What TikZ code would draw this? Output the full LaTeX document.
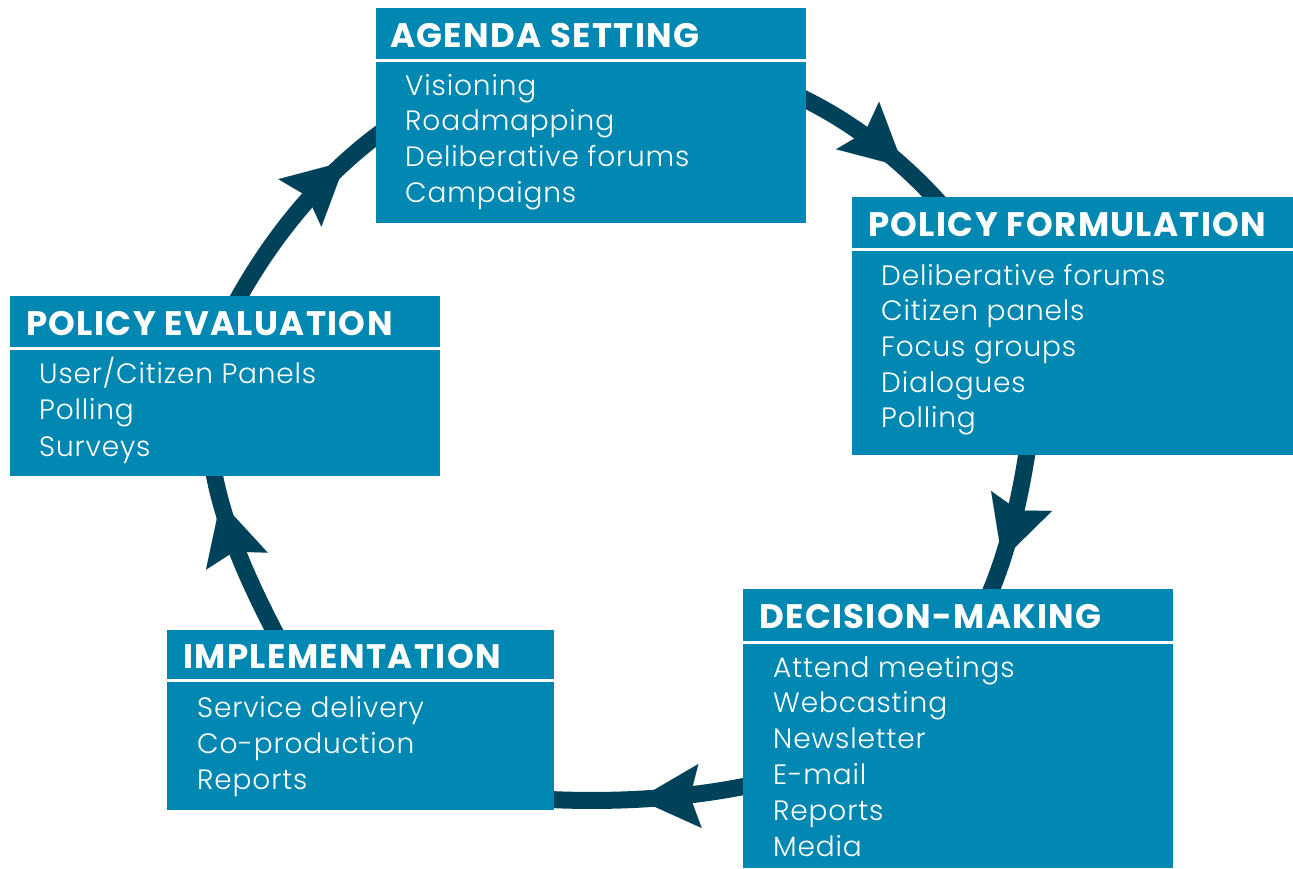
\documentclass[tikz,border=0pt]{standalone}
\usepackage{fontspec}
\setmainfont{Poppins}
\newfontfamily\itemfont{Poppins Light}[LetterSpace=3]
\newfontfamily\titlefont{Poppins}[LetterSpace=4]
\usetikzlibrary{arrows.meta,decorations.markings}
\definecolor{boxblue}{RGB}{0,136,178}
\definecolor{arrowdark}{RGB}{0,66,90}
\pgfdeclarelayer{background}
\pgfsetlayers{background,main}
\begin{document}
\begin{tikzpicture}[x=1pt,y=-1pt,
  box/.style={fill=boxblue, draw=none, rectangle, inner sep=0pt, anchor=north west},
  boxtitle/.style={anchor=base west, inner sep=0pt, text=white, font=\titlefont\bfseries\fontsize{34}{34}\selectfont},
  item/.style={anchor=base west, inner sep=0pt, text=white, font=\itemfont\fontsize{28}{28}\selectfont},
  sepline/.style={draw=white, line width=3pt},
  flow/.style={draw=arrowdark, color=arrowdark, line width=17pt,
    decoration={markings, mark=at position #1 with {\arrow{Stealth[length=62pt,width=64pt,inset=10pt,line width=0.01pt]}}},
    postaction={decorate}}
]
\useasboundingbox (0,0) rectangle (1293,868);

% boxes
\node[box, minimum width=430pt, minimum height=215pt] (agenda) at (376,8) {};
\node[box, minimum width=441pt, minimum height=258pt] (form) at (852,197) {};
\node[box, minimum width=430pt, minimum height=279pt] (decision) at (743,589) {};
\node[box, minimum width=387pt, minimum height=180pt] (impl) at (167,630) {};
\node[box, minimum width=430pt, minimum height=180pt] (eval) at (10,296) {};

% separator lines
\draw[sepline] ([yshift=-52pt]agenda.north west) -- ([yshift=-52pt]agenda.north east);
\draw[sepline] ([yshift=-52pt]form.north west) -- ([yshift=-52pt]form.north east);
\draw[sepline] ([yshift=-53pt]decision.north west) -- ([yshift=-53pt]decision.north east);
\draw[sepline] ([yshift=-50pt]impl.north west) -- ([yshift=-50pt]impl.north east);
\draw[sepline] ([yshift=-52pt]eval.north west) -- ([yshift=-52pt]eval.north east);

% titles
\node[boxtitle] (agenda-t) at (390,47) {AGENDA SETTING};
\node[boxtitle] (form-t) at (868,236) {POLICY FORMULATION};
\node[boxtitle] (decision-t) at (759,628) {DECISION-MAKING};
\node[boxtitle] (impl-t) at (183,668) {IMPLEMENTATION};
\node[boxtitle] (eval-t) at (26,335) {POLICY EVALUATION};

% items
\foreach \t [count=\i from 0] in {Visioning, Roadmapping, Deliberative forums, Campaigns}
  \node[item] (agenda-\i) at (405,95+35.8*\i) {\t};
\foreach \t [count=\i from 0] in {Deliberative forums, Citizen panels, Focus groups, Dialogues, Polling}
  \node[item] (form-\i) at (881,285+35.7*\i) {\t};
\foreach \t [count=\i from 0] in {Attend meetings, Webcasting, Newsletter, E-mail, Reports, Media}
  \node[item] (decision-\i) at (773,677+35.8*\i) {\t};
\foreach \t [count=\i from 0] in {Service delivery, Co-production, Reports}
  \node[item] (impl-\i) at (197,717+36*\i) {\t};
\foreach \t [count=\i from 0] in {User/Citizen Panels, Polling, Surveys}
  \node[item] (eval-\i) at (39,383+36.5*\i) {\t};

% connector ends (inside the boxes)
\coordinate (a-out) at (796,95);
\coordinate (f-in) at (944,208);
\coordinate (f-out) at (1029,440);
\coordinate (d-in) at (987,600);
\coordinate (d-out) at (756,784);
\coordinate (i-in) at (540,799);
\coordinate (i-out) at (280,642);
\coordinate (e-in) at (212,462);
\coordinate (e-out) at (233,308);
\coordinate (a-in) at (390,126);

\begin{pgfonlayer}{background}
\draw[flow=130pt] (a-out) .. controls (852,121) and (903,161) .. (f-in);
\draw[flow=123pt] (f-out) .. controls (1021,494) and (1009,550) .. (d-in);
\draw[flow=119pt] (d-out) .. controls (686,799) and (612,803) .. (i-in);
\draw[flow=153pt] (i-out) .. controls (250,585) and (222,525) .. (e-in);
\draw[flow=186pt] (e-out) .. controls (271,237) and (324,172) .. (a-in);
\end{pgfonlayer}
\end{tikzpicture}
\end{document}
